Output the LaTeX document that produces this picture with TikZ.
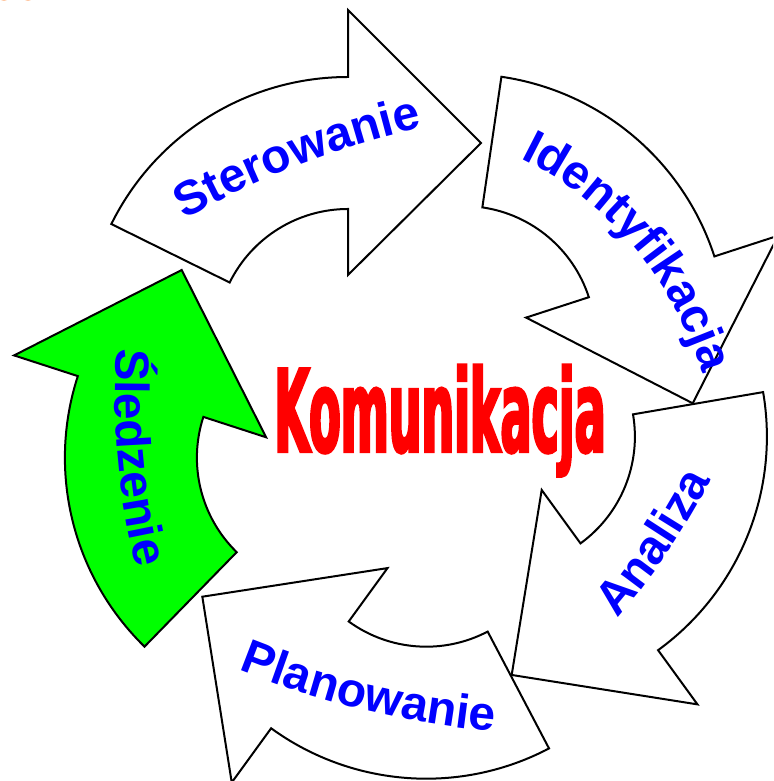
\documentclass[tikz,border=0pt]{standalone}
\usepackage{fontspec}
\setmainfont{Liberation Sans}
\newfontfamily\komfont{DejaVu Sans}[BoldFeatures={FakeStretch=0.40, FakeBold=2}]
\usetikzlibrary{decorations.text}

\definecolor{lblblue}{RGB}{0,0,255}
\definecolor{komred}{RGB}{255,0,0}
\definecolor{stepgreen}{RGB}{0,255,0}
\definecolor{cornerorange}{RGB}{255,102,0}

\newcommand\lblfmt{\fontsize{48}{50}\selectfont\bfseries}

% label on an arc whose centre lies right of the reading direction
% #1 mid point, #2 reading angle, #3 radius, #4 half sweep, #5 text
\newcommand\cwlabel[5]{%
  \path[labeltext={#5}] ([shift={(#1)}]#2-90:#3) ++(#2+90+#4:#3)
    arc[start angle=#2+90+#4, end angle=#2+90-#4, radius=#3];}
% label on an arc whose centre lies left of the reading direction
\newcommand\ccwlabel[5]{%
  \path[labeltext={#5}] ([shift={(#1)}]#2+90:#3) ++(#2-90-#4:#3)
    arc[start angle=#2-90-#4, end angle=#2-90+#4, radius=#3];}

\tikzset{
  cyclearrow/.pic={
    \path[pic actions] (153.7:264) arc[start angle=153.7, end angle=90, radius=264]
      -- (0,331) -- (133,198) -- (0,66) -- (0,132)
      arc[start angle=90, end angle=153.7, radius=132] -- cycle;
  },
  arrowline/.style={draw=black, line width=2pt, line join=miter},
  labeltext/.style={decorate, decoration={text along path,
      text={|\lblfmt|#1}, text align=center, text color=lblblue}},
  komtext/.style={anchor=base, inner sep=0pt, text=komred,
      font=\komfont\bfseries\fontsize{115}{115}\selectfont},
}

\begin{document}
\begin{tikzpicture}[x=1pt, y=1pt]
  \useasboundingbox (0,0) rectangle (773,781);
  \clip (0,0) rectangle (773,781);

  % small orange marks at the top left corner
  \fill[cornerorange] (4,787) ellipse[x radius=7, y radius=6.5];
  \fill[cornerorange] (28,787) ellipse[x radius=7, y radius=6.5];

  % the five curved arrows of the cycle
  \pic[arrowline, fill=white]                  at (348,440)   {cyclearrow};
  \pic[arrowline, fill=white, rotate=-72]      at (463.3,443) {cyclearrow};
  \pic[arrowline, fill=white, rotate=-144]     at (502.9,344.4) {cyclearrow};
  \pic[arrowline, fill=white, rotate=-216]     at (426.3,266.3) {cyclearrow};
  \pic[arrowline, fill=stepgreen, rotate=-288] at (328.9,323.3) {cyclearrow};

  % labels along the arrows
  \cwlabel{300,616}{21}{900}{14}{Sterowanie}
  \cwlabel{634,534}{-49.9}{350}{30}{Identyfikacja}
  \ccwlabel{668,229}{56}{700}{12}{Analiza}
  \ccwlabel{364,71}{-13.6}{900}{12}{Planowanie}
  \ccwlabel{118,322}{-84.8}{700}{12}{Śledzenie}

  % centre title
  \node[komtext] (kom) at (440,329) {Komunikacja};
\end{tikzpicture}
\end{document}
